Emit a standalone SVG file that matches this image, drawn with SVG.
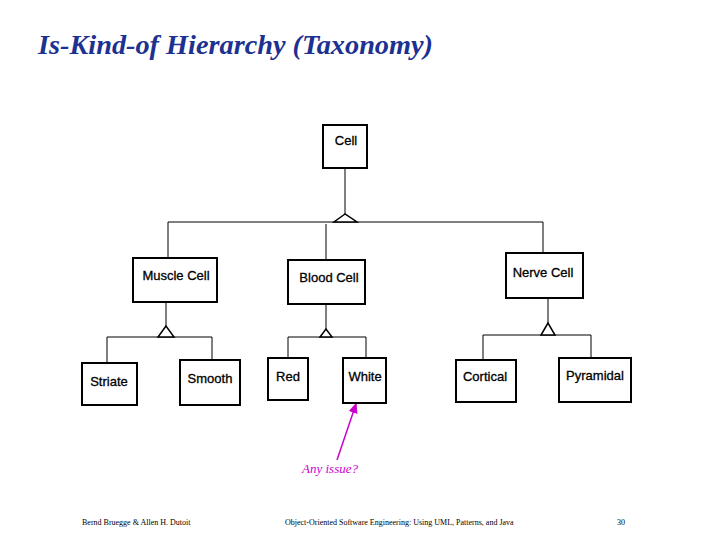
<svg xmlns="http://www.w3.org/2000/svg" width="720" height="540" viewBox="0 0 720 540">
<style>
.b{fill:#fff;stroke:#000;stroke-width:2}
.t{font-family:"Liberation Sans",Arial,sans-serif;font-size:13px;fill:#000;stroke:#000;stroke-width:0.3}
.l{stroke:#000;stroke-width:1;fill:none}
.tri{fill:#fff;stroke:#000;stroke-width:1.5}
.f{font-family:"Liberation Serif",serif;font-size:8px;fill:#000}
</style>
<defs><marker id="a" markerWidth="8" markerHeight="8" refX="6" refY="4" orient="auto"><path d="M0,1 L7,4 L0,7z" fill="#c0c"/></marker></defs>
<rect width="720" height="540" fill="#fff"/>
<text x="38" y="54" font-family="Liberation Serif,serif" font-size="27" font-weight="bold" font-style="italic" fill="#1c3190" textLength="395" lengthAdjust="spacingAndGlyphs">Is-Kind-of Hierarchy (Taxonomy)</text>
<g id="connectors">
<path class="l" d="M345,168V214M168,258V222H543V253M326,224V260M166,302V326M107,363V337H212V360M326,304V329M288,358V337H366V358M548,298V323M483,360V335H591V358"/>
<path class="tri" d="M345,214L334,222H357Z"/>
<path class="tri" d="M166,326L158,337H174Z"/>
<path class="tri" d="M326,329L320,337H332Z"/>
<path class="tri" d="M548,323L541,335H555Z"/>
<line x1="337" y1="460" x2="356" y2="404" stroke="#c0c" stroke-width="1.5" marker-end="url(#a)"/>
</g>
<g id="cell"><rect class="b" x="323" y="125" width="44" height="43"/><text class="t" x="346" y="145" text-anchor="middle">Cell</text></g>
<g id="muscle"><rect class="b" x="133" y="258" width="84" height="44"/><text class="t" x="176" y="280" text-anchor="middle">Muscle Cell</text></g>
<g id="blood"><rect class="b" x="288" y="260" width="77" height="44"/><text class="t" x="329" y="282" text-anchor="middle">Blood Cell</text></g>
<g id="nerve"><rect class="b" x="506" y="253" width="77" height="45"/><text class="t" x="543" y="277" text-anchor="middle">Nerve Cell</text></g>
<g id="striate"><rect class="b" x="82" y="363" width="55" height="42"/><text class="t" x="109" y="386" text-anchor="middle">Striate</text></g>
<g id="smooth"><rect class="b" x="180" y="360" width="60" height="45"/><text class="t" x="210" y="383" text-anchor="middle">Smooth</text></g>
<g id="red"><rect class="b" x="268" y="358" width="40" height="42"/><text class="t" x="288" y="381" text-anchor="middle">Red</text></g>
<g id="white"><rect class="b" x="343" y="358" width="43" height="45"/><text class="t" x="365" y="381" text-anchor="middle">White</text></g>
<g id="cortical"><rect class="b" x="456" y="360" width="60" height="42"/><text class="t" x="485" y="381" text-anchor="middle">Cortical</text></g>
<g id="pyramidal"><rect class="b" x="559" y="358" width="72" height="44"/><text class="t" x="595" y="380" text-anchor="middle">Pyramidal</text></g>
<text x="330" y="473" text-anchor="middle" font-family="Liberation Serif,serif" font-size="13" font-style="italic" fill="#c0c">Any issue?</text>
<text class="f" x="82" y="525">Bernd Bruegge &amp; Allen H. Dutoit</text>
<text class="f" x="285" y="525">Object-Oriented Software Engineering: Using UML, Patterns, and Java</text>
<text class="f" x="617" y="525">30</text>
</svg>
